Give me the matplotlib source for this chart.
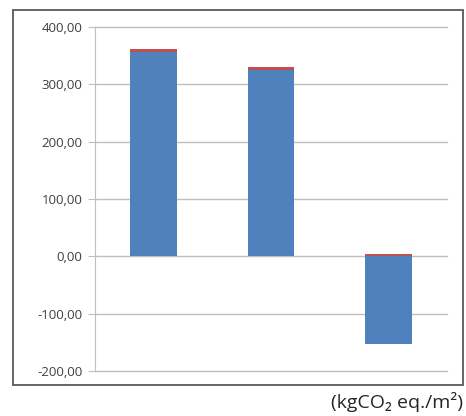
import matplotlib.pyplot as plt
from matplotlib.patches import Rectangle
from matplotlib.ticker import FuncFormatter

# values (kgCO2 eq./m2)
positions = [0, 1, 2]
blue_vals = [356.5, 324.6, -153.6]
red_vals = [4.8, 5.2, 4.0]
yticks = [-200, -100, 0, 100, 200, 300, 400]

plt.rcParams['font.family'] = ['Open Sans', 'DejaVu Sans']

fig = plt.figure(figsize=(4.66, 4.16), dpi=100)
W, H = 466, 416
ax = fig.add_axes([95 / W, 1 - 371 / H, (447 - 95) / W, (371 - 27) / H])

# outer frame
fig.patches.append(Rectangle((13 / W, 1 - 385 / H), (463 - 13) / W, (385 - 10) / H,
                             transform=fig.transFigure, fill=False,
                             edgecolor='#595959', linewidth=1.3))

ax.bar(positions, blue_vals, width=0.4, color='#4F81BD', zorder=3)
red_bottom = [b if b > 0 else 0 for b in blue_vals]
ax.bar(positions, red_vals, width=0.4, bottom=red_bottom, color='#C0504D', zorder=3)

ax.set_xlim(-0.5, 2.5)
ax.set_ylim(-200, 400)
ax.set_yticks(yticks)
ax.yaxis.set_major_formatter(FuncFormatter(lambda v, p: f"{v:.2f}".replace('.', ',')))
ax.set_xticks([])
for y in yticks:
    ax.axhline(y, color='#BFBFBF', linewidth=1, zorder=0, clip_on=False)
for s in ['top', 'right', 'bottom']:
    ax.spines[s].set_visible(False)
ax.spines['left'].set_color('#BFBFBF')
ax.tick_params(axis='y', length=5, color='#BFBFBF', labelsize=9.5, labelcolor='#404040', pad=4)

fig.text(463 / W, 1 - 402 / H, "(kgCO₂ eq./m²)", ha='right', va='center',
         fontsize=14, color='#262626')

plt.savefig("out.png", dpi=100)
